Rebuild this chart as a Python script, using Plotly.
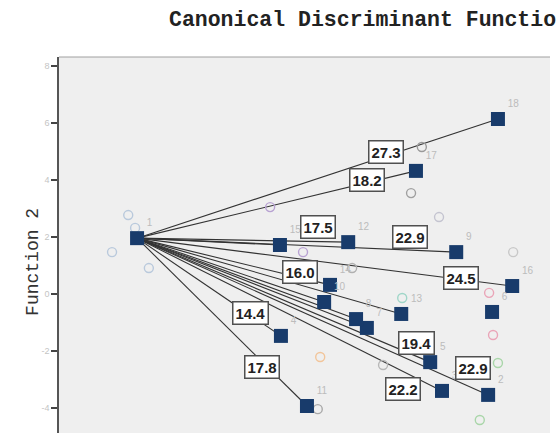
import plotly.graph_objects as go

# Group centroids on the first two canonical discriminant functions
groups = [1, 2, 3, 4, 5, 6, 7, 8, 9, 10, 11, 12, 13, 14, 15, 16, 17, 18]
func1 = [-3.41, 3.74, 2.80, -0.48, 2.56, 3.82, 1.27, 1.05, 3.09, 0.40, 0.05,
         0.89, 1.97, 0.52, -0.50, 4.23, 2.27, 3.94]
func2 = [1.96, -3.54, -3.40, -1.47, -2.39, -0.63, -1.19, -0.88, 1.47, -0.28,
         -3.93, 1.82, -0.70, 0.32, 1.72, 0.28, 4.32, 6.14]

# Groups joined to the reference group (group 1)
linked = [2, 3, 4, 5, 7, 8, 9, 10, 11, 12, 13, 14, 15, 16, 17, 18]

# Distances from group 1 written on the connecting lines
dist_groups = [18, 17, 12, 9, 16, 14, 4, 11, 5, 3, 2]
dist_values = [27.3, 18.2, 17.5, 22.9, 24.5, 16.0, 14.4, 17.8, 19.4, 22.2, 22.9]

# Individual cases
case_f1 = [-3.59, -3.17, -3.45, -3.92, -0.70, -0.03, 2.39, 2.17, 2.74, 4.25,
           0.97, 3.76, 3.84, 0.32, 3.94, 3.57, 1.99, 1.60, 0.27]
case_f2 = [2.77, 0.91, 2.32, 1.47, 3.05, 1.47, 5.16, 3.54, 2.70, 1.47,
           0.91, 0.04, -1.44, -2.21, -2.42, -4.42, -0.14, -2.49, -4.04]
case_group = [1, 1, 1, 1, 15, 15, 18, 17, 9, 16, 14, 6, 6, 4, 2, 2, 13, 5, 11]

y_ticks = [-4, -2, 0, 2, 4, 6, 8]

# Placement of the distance boxes: fraction along the line and vertical nudge (px)
label_frac = [0.69, 0.824, 0.858, 0.856, 0.864, 0.845, 0.79, 0.735, 0.952, 0.872, 0.957]
label_nudge = [4, 3, 15, 13, 2, 6, 2, -5, 13, -18, 20]

case_colors = {1: "#b9c9dc", 15: "#b8a2d2", 18: "#9a9a9a", 17: "#a0a0a0",
               9: "#c4c4d0", 16: "#c8c8c8", 14: "#b0b0b0", 6: "#eaa5b8",
               4: "#f2c59a", 2: "#a9d6a9", 13: "#9fd6c8", 5: "#b8b8b8",
               11: "#a8a8a8"}

idx = {g: i for i, g in enumerate(groups)}
cx, cy = func1[idx[1]], func2[idx[1]]

fig = go.Figure()

# Connecting lines from group 1
lx, ly = [], []
for g in linked:
    lx += [cx, func1[idx[g]], None]
    ly += [cy, func2[idx[g]], None]
fig.add_trace(go.Scatter(x=lx, y=ly, mode="lines",
                         line=dict(color="#333333", width=1.1),
                         hoverinfo="skip", showlegend=False))

# Cases
fig.add_trace(go.Scatter(
    x=case_f1, y=case_f2, mode="markers",
    marker=dict(symbol="circle-open", size=9,
                color=[case_colors[g] for g in case_group],
                line=dict(width=1.4)),
    showlegend=False))

# Group centroids
fig.add_trace(go.Scatter(
    x=func1, y=func2, mode="markers+text",
    text=[str(g) for g in groups], textposition="top right",
    textfont=dict(family="Liberation Sans, Arial", size=10, color="#bcbcbc"),
    marker=dict(symbol="square", size=14, color="#183b6b",
                line=dict(width=0)),
    showlegend=False))

annotations = []
for g, v, t, dy in zip(dist_groups, dist_values, label_frac, label_nudge):
    gx, gy = func1[idx[g]], func2[idx[g]]
    annotations.append(dict(
        x=cx + t * (gx - cx), y=cy + t * (gy - cy), xref="x", yref="y",
        yshift=dy, text=f"<b>{v:.1f}</b>", showarrow=False,
        font=dict(family="Liberation Sans, Arial", size=15, color="#222222"),
        bgcolor="#ffffff", bordercolor="#505050", borderwidth=1.5, borderpad=2))

annotations.append(dict(
    x=0.22, y=1.098, xref="paper", yref="paper", xanchor="left", yanchor="middle",
    text="<b>Canonical Discriminant Functions</b>", showarrow=False,
    font=dict(family="Courier New, Liberation Mono, monospace", size=21.5,
              color="#222222")))
annotations.append(dict(
    x=-0.053, y=0.455, xref="paper", yref="paper", xanchor="center",
    yanchor="middle", text="Function 2", textangle=-90, showarrow=False,
    font=dict(family="Courier New, Liberation Mono, monospace", size=18,
              color="#333333")))

fig.update_layout(
    width=556, height=433,
    margin=dict(l=59, r=6, t=57, b=0),
    paper_bgcolor="#ffffff", plot_bgcolor="#efefef",
    annotations=annotations,
    shapes=[dict(type="line", xref="paper", yref="paper", x0=0, x1=1, y0=1, y1=1,
                 line=dict(color="#a0a0a0", width=1))],
    xaxis=dict(range=[-5, 5], showticklabels=False, showgrid=False,
               zeroline=False, showline=False, ticks=""),
    yaxis=dict(range=[-4.877, 8.316], tickvals=y_ticks,
               ticktext=[str(v) for v in y_ticks], ticks="outside", ticklen=6,
               tickwidth=1.5, tickcolor="#444444", showgrid=False, zeroline=False,
               showline=True, linecolor="#555555", linewidth=1.5,
               tickfont=dict(family="Liberation Sans, Arial", size=9,
                             color="#c4c4c4")),
)

fig.write_html("out.html")
